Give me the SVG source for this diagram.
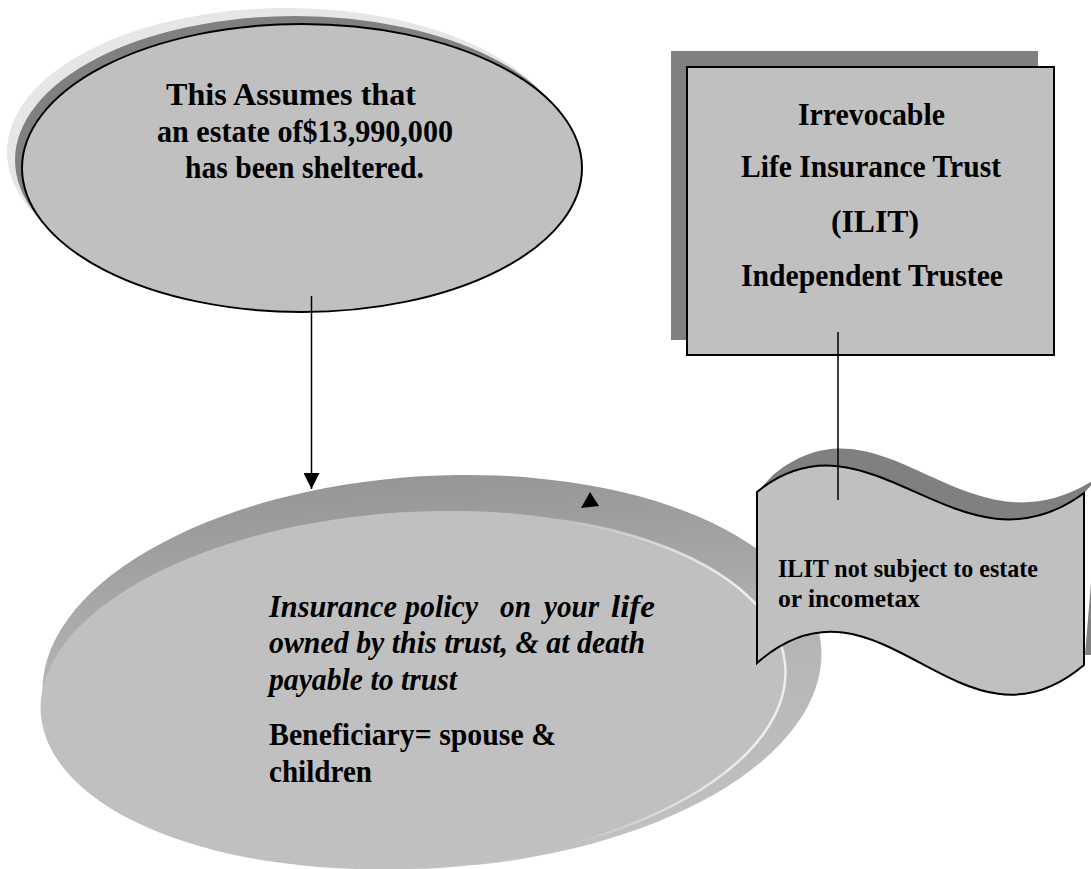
<svg xmlns="http://www.w3.org/2000/svg" width="1091" height="869" viewBox="0 0 1091 869">
<style>
.t{font-family:"Liberation Serif","Times New Roman",serif;font-weight:bold;fill:#000}
.i{font-style:italic}
.edge{stroke:#000;stroke-width:1.5;fill:none}
</style>
<defs>
<linearGradient id="band" x1="0" y1="0" x2="0" y2="1">
<stop offset="0" stop-color="#969696"/>
<stop offset="0.2" stop-color="#a2a2a2"/>
<stop offset="0.5" stop-color="#b6b6b6"/>
<stop offset="1" stop-color="#c2c2c2"/>
</linearGradient>
<linearGradient id="rim" x1="0" y1="0" x2="1" y2="0">
<stop offset="0" stop-color="#ffffff" stop-opacity="0"/>
<stop offset="0.7" stop-color="#ffffff" stop-opacity="0"/>
<stop offset="0.95" stop-color="#eeeeee" stop-opacity="1"/>
</linearGradient>
<marker id="arr" markerWidth="16" markerHeight="16" refX="16" refY="8" orient="auto" markerUnits="userSpaceOnUse">
<path d="M0,0 L16,8 L0,16 Z" fill="#000"/>
</marker>
</defs>
<rect width="1091" height="869" fill="#fff"/>

<g id="estate-node">
<ellipse cx="287" cy="152" rx="280" ry="144" fill="#e6e6e6"/>
<ellipse cx="295" cy="160" rx="280" ry="144" fill="#808080"/>
<ellipse cx="302" cy="168" rx="280" ry="144" fill="#c0c0c0" stroke="#000" stroke-width="2"/>
<text class="t" font-size="32" x="166" y="105" textLength="250" lengthAdjust="spacingAndGlyphs">This Assumes that</text>
<text class="t" font-size="32" x="157" y="142" textLength="296" lengthAdjust="spacingAndGlyphs">an estate of$13,990,000</text>
<text class="t" font-size="32" x="185" y="178" textLength="239" lengthAdjust="spacingAndGlyphs">has been sheltered.</text>
</g>

<g id="ilit-node">
<rect x="671" y="51" width="367" height="289" fill="#808080"/>
<rect x="687" y="67" width="367" height="288" fill="#c0c0c0" stroke="#000" stroke-width="2"/>
<text class="t" font-size="32" x="798" y="125" textLength="147" lengthAdjust="spacingAndGlyphs">Irrevocable</text>
<text class="t" font-size="32" x="741" y="177" textLength="260" lengthAdjust="spacingAndGlyphs">Life Insurance Trust</text>
<text class="t" font-size="32" x="831" y="232" textLength="88" lengthAdjust="spacingAndGlyphs">(ILIT)</text>
<text class="t" font-size="32" x="741" y="286" textLength="262" lengthAdjust="spacingAndGlyphs">Independent Trustee</text>
</g>

<g id="policy-node">
<ellipse cx="432" cy="672" rx="390" ry="196" transform="rotate(-3.5 432 672)" fill="url(#band)"/>
<ellipse cx="413" cy="690" rx="373" ry="178" transform="rotate(-3.5 413 690)" fill="#c0c0c0" stroke="url(#rim)" stroke-width="2.5"/>
<text class="t i" font-size="32" y="617"><tspan x="269" textLength="128" lengthAdjust="spacingAndGlyphs">Insurance</tspan><tspan x="405" textLength="73" lengthAdjust="spacingAndGlyphs">policy</tspan><tspan x="500" textLength="31" lengthAdjust="spacingAndGlyphs">on</tspan><tspan x="544" textLength="55" lengthAdjust="spacingAndGlyphs">your</tspan><tspan x="611" textLength="44" lengthAdjust="spacingAndGlyphs">life</tspan></text>
<text class="t i" font-size="32" x="269" y="653" textLength="376" lengthAdjust="spacingAndGlyphs">owned by this trust, &amp; at death</text>
<text class="t i" font-size="32" x="269" y="690" textLength="188" lengthAdjust="spacingAndGlyphs">payable to trust</text>
<text class="t" font-size="32" x="269" y="745" textLength="287" lengthAdjust="spacingAndGlyphs">Beneficiary= spouse &amp;</text>
<text class="t" font-size="32" x="269" y="782" textLength="103" lengthAdjust="spacingAndGlyphs">children</text>
</g>

<g id="tax-note">
<path d="M773,475 C886,383 966,568 1100,476 L1084,493 C960,585 870,400 757,492 Z" fill="#808080"/>
<path d="M1091,583 L1091,655 L1085,655 Z" fill="#808080"/>
<path d="M757,492 C870,400 960,585 1084,493 L1084,665 C960,770 880,555 757,663 Z" fill="#c0c0c0" stroke="#000" stroke-width="2"/>
<text class="t" font-size="26" x="778" y="577" textLength="260" lengthAdjust="spacingAndGlyphs">ILIT not subject to estate</text>
<text class="t" font-size="26" x="778" y="607" textLength="142" lengthAdjust="spacingAndGlyphs">or incometax</text>
</g>

<g id="connectors">
<line class="edge" x1="311.5" y1="296" x2="311.5" y2="489" marker-end="url(#arr)"/>
<line class="edge" x1="838" y1="332" x2="838" y2="500"/>
<path d="M590,492 L581,508 L599,506 Z" fill="#000"/>
</g>
</svg>
